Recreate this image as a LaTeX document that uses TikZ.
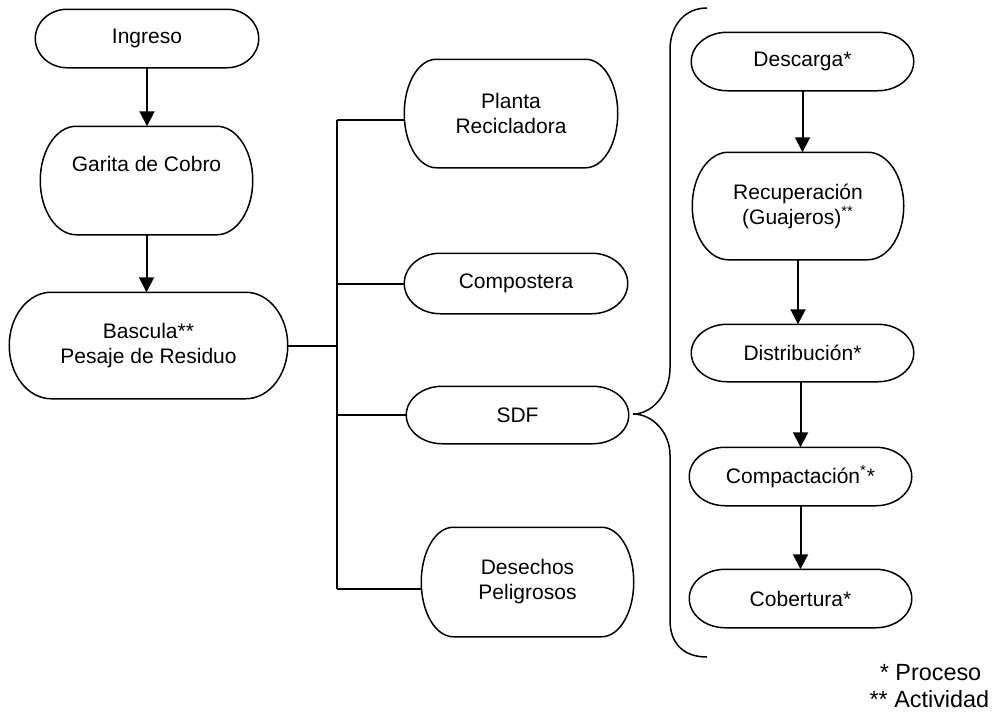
\documentclass[tikz,border=0pt]{standalone}
\usepackage{fontspec}
\setmainfont{Liberation Sans}
\usetikzlibrary{arrows.meta,calc}

% outline of a terminal box: node name, width of its curved ends
\newcommand{\terminal}[2]{%
  \draw let \p1 = (#1.north west), \p2 = (#1.south east),
            \n1 = {(\y1-\y2)/2} in
    (\x1+#2,\y1) -- (\x2-#2,\y1)
    arc[start angle=90, end angle=-90, x radius=#2, y radius=\n1]
    -- (\x1+#2,\y2)
    arc[start angle=270, end angle=90, x radius=#2, y radius=\n1] -- cycle;}

\begin{document}
\begin{tikzpicture}[x=0.5pt, y=-0.5pt, line width=0.75pt,
                    font=\fontsize{10.5}{12.5}\selectfont,
                    box/.style = {rectangle, align=center,
                                  minimum width=110.5pt,
                                  minimum height=28.5pt},
                    tall/.style = {box, minimum height=53.5pt},
                    flow/.style = {line width=1pt, -{Triangle[width=7.5pt,length=7.5pt]}},
                    link/.style = {line width=1pt}]

  \useasboundingbox (0,0) rectangle (994,713);

  % Entrance
  \node[box, minimum width=111pt] (ingreso) at (147,38.5) {Ingreso};
  \node[tall, minimum width=105.5pt] (garita) at (146.5,180.5) {Garita de Cobro\\ \strut};
  \node[tall, minimum width=138.5pt, minimum height=52.5pt] (bascula) at (148.5,345.5) {Bascula**\\Pesaje de Residuo};

  \terminal{ingreso}{16pt}
  \terminal{garita}{18pt}
  \terminal{bascula}{21pt}

  \draw[flow] (ingreso.south) -- (ingreso.south |- garita.north);
  \draw[flow] (garita.south) -- (garita.south |- bascula.north);

  % Destinations
  \node[tall, minimum width=106pt] (planta) at (511,113.5) {Planta\\Recicladora};
  \node[box, minimum width=111pt, minimum height=29.5pt] (compostera) at (516,283.5) {Compostera};
  \node[box, minimum height=28pt] (sdf) at (517.5,415) {SDF};
  \node[tall, minimum width=105.5pt, minimum height=54pt] (desechos) at (527.5,582) {Desechos\\Peligrosos};

  \terminal{planta}{16pt}
  \terminal{compostera}{18pt}
  \terminal{sdf}{18pt}
  \terminal{desechos}{16pt}

  % Bus lines
  \coordinate (bustop) at (337,120);
  \coordinate (busbot) at (337,589);
  \draw[link] (bustop) -- (busbot);
  \draw[link] (bascula.east) -- (bascula.east -| bustop);
  \draw[link] (bustop) -- (bustop -| planta.west);
  \draw[link] (compostera.west -| bustop) -- (compostera.west);
  \draw[link] (sdf.west -| bustop) -- (sdf.west);
  \draw[link] (busbot) -- (busbot -| desechos.west);

  % Brace
  \coordinate (bracetip) at (633,414);
  \draw (707,8) .. controls (685,8) and (670,25) .. (670,50) -- (670,368)
        .. controls (670,393) and (653,414) .. (bracetip)
        .. controls (653,414) and (670,433) .. (670,455) -- (670,620)
        .. controls (670,645) and (685,657) .. (707,657);

  % SDF steps
  \node[box] (descarga) at (802.5,61.5) {Descarga*};
  \node[tall, minimum width=105pt, minimum height=53pt] (recuperacion) at (798,206) {Recuperación\\(Guajeros)\textsuperscript{**}};
  \node[box, minimum height=28pt] (distribucion) at (802.5,353) {Distribución*};
  \node[box] (compactacion) at (800.5,476.5) {Compactación\textsuperscript{*}*};
  \node[box] (cobertura) at (800.5,598.5) {Cobertura*};

  \terminal{descarga}{18pt}
  \terminal{recuperacion}{18pt}
  \terminal{distribucion}{18pt}
  \terminal{compactacion}{18pt}
  \terminal{cobertura}{18pt}

  \draw[flow] (descarga.south) -- (descarga.south |- recuperacion.north);
  \draw[flow] (recuperacion.south) -- (recuperacion.south |- distribucion.north);
  \draw[flow] (compactacion.north |- distribucion.south) -- (compactacion.north);
  \draw[flow] (compactacion.south) -- (compactacion.south |- cobertura.north);

  % Legend
  \node[anchor=east, inner sep=0pt, font=\fontsize{11.7}{14}\selectfont] (proceso) at (982,673) {* Proceso};
  \node[anchor=east, inner sep=0pt, font=\fontsize{11.7}{14}\selectfont] (actividad) at (990,699) {** Actividad};

\end{tikzpicture}
\end{document}
